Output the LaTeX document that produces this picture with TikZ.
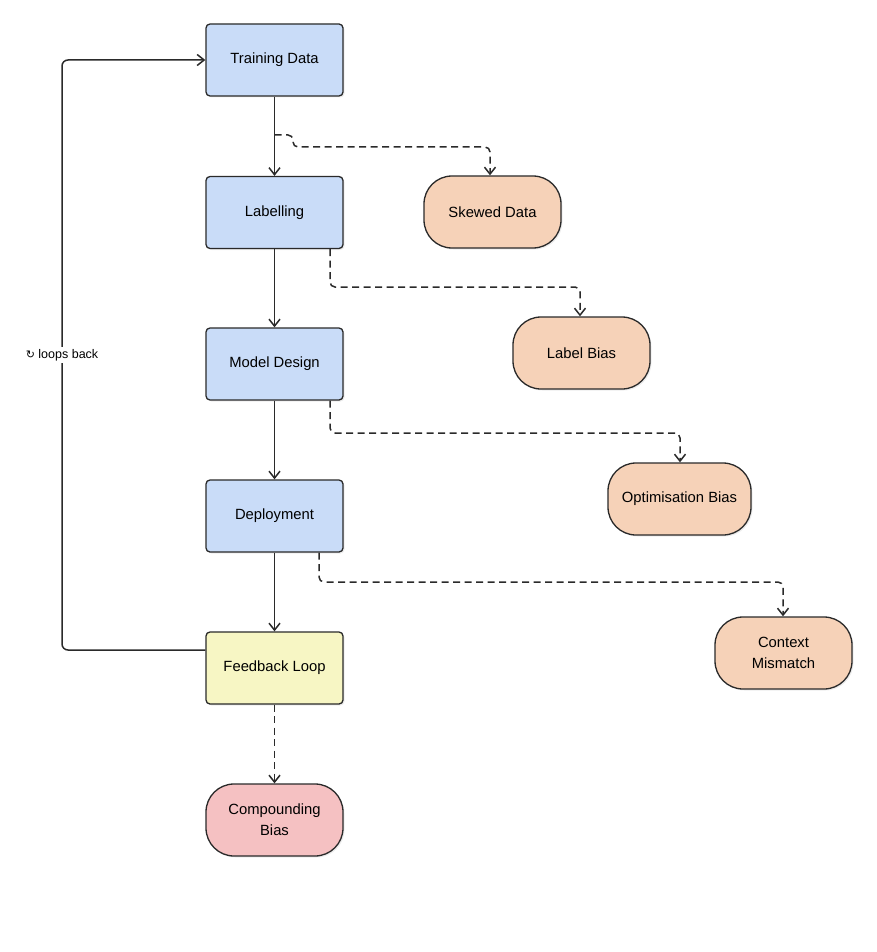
\documentclass[tikz,border=0pt]{standalone}
\usepackage{fontspec}
\setmainfont{Liberation Sans}
\newfontfamily\symfont{DejaVu Sans}
\usetikzlibrary{arrows.meta,shadows}
\definecolor{bluefill}{HTML}{C9DCF8}
\definecolor{orangefill}{HTML}{F6D2B8}
\definecolor{yellowfill}{HTML}{F7F6C4}
\definecolor{pinkfill}{HTML}{F5C1C2}
\definecolor{edge}{HTML}{2A2A2A}
\begin{document}
\begin{tikzpicture}[x=1pt,y=-1pt,
  every node/.style={font=\fontsize{14.8}{21}\selectfont, text=black},
  stagebox/.style={draw=edge, line width=1.3pt, rounded corners=4pt, minimum width=137pt, minimum height=72pt, inner sep=0pt, align=center,
    drop shadow={shadow xshift=1.5pt, shadow yshift=-1.5pt, opacity=0.15}},
  biasbox/.style={draw=edge, line width=1.3pt, rounded corners=28pt, minimum height=72pt, inner sep=0pt, align=center,
    drop shadow={shadow xshift=1.5pt, shadow yshift=-1.5pt, opacity=0.15}},
  solidarrow/.style={draw=edge, line width=1.5pt, -{Straight Barb[length=7pt,width=11pt]}},
  dasharrow/.style={draw=edge, line width=1.5pt, dash pattern=on 7pt off 4.5pt, rounded corners=5pt, -{Straight Barb[length=7pt,width=11pt]}},
]
\useasboundingbox (0,0) rectangle (877,952);

\node[stagebox, fill=bluefill] (train) at (274.5,60) {Training Data};
\node[stagebox, fill=bluefill] (label) at (274.5,212.5) {Labelling};
\node[stagebox, fill=bluefill] (model) at (274.5,364) {Model Design};
\node[stagebox, fill=bluefill] (deploy) at (274.5,516) {Deployment};
\node[stagebox, fill=yellowfill] (feed) at (274.5,668) {Feedback Loop};

\node[biasbox, fill=pinkfill, minimum width=137pt] (comp) at (274.5,820) {Compounding\\Bias};
\node[biasbox, fill=orangefill, minimum width=137pt] (skew) at (492.5,212) {Skewed Data};
\node[biasbox, fill=orangefill, minimum width=137pt] (lbias) at (581.5,353) {Label Bias};
\node[biasbox, fill=orangefill, minimum width=143pt] (obias) at (679.5,499) {Optimisation Bias};
\node[biasbox, fill=orangefill, minimum width=137pt] (ctx) at (783.5,653) {Context\\Mismatch};

% main flow
\draw[solidarrow] (train) -- (label);
\draw[solidarrow] (label) -- (model);
\draw[solidarrow] (model) -- (deploy);
\draw[solidarrow] (deploy) -- (feed);
\draw[dasharrow] (feed) -- (comp);

% bias branches
\coordinate (tsrc) at (274.5,135);
\draw[dasharrow] (tsrc) -| (293,147) -- (490,147) -- (skew.north -| 490,0);
\draw[dasharrow] (label.south -| 330,0) |- (580,287) -- (lbias.north -| 580,0);
\draw[dasharrow] (model.south -| 330,0) |- (680,433) -- (obias.north -| 680,0);
\draw[dasharrow] (deploy.south -| 319,0) |- (783,582) -- (ctx.north -| 783,0);

% loop back
\draw[solidarrow, rounded corners=6pt] (feed.west |- 0,650) -- (62,650) -- (62,60) -- (train.west);
\node[fill=white, inner sep=2pt, font=\fontsize{12.5}{15}\selectfont] (looplbl) at (62,355) {{\symfont\fontsize{11}{13}\selectfont ↻} loops back};
\end{tikzpicture}
\end{document}
